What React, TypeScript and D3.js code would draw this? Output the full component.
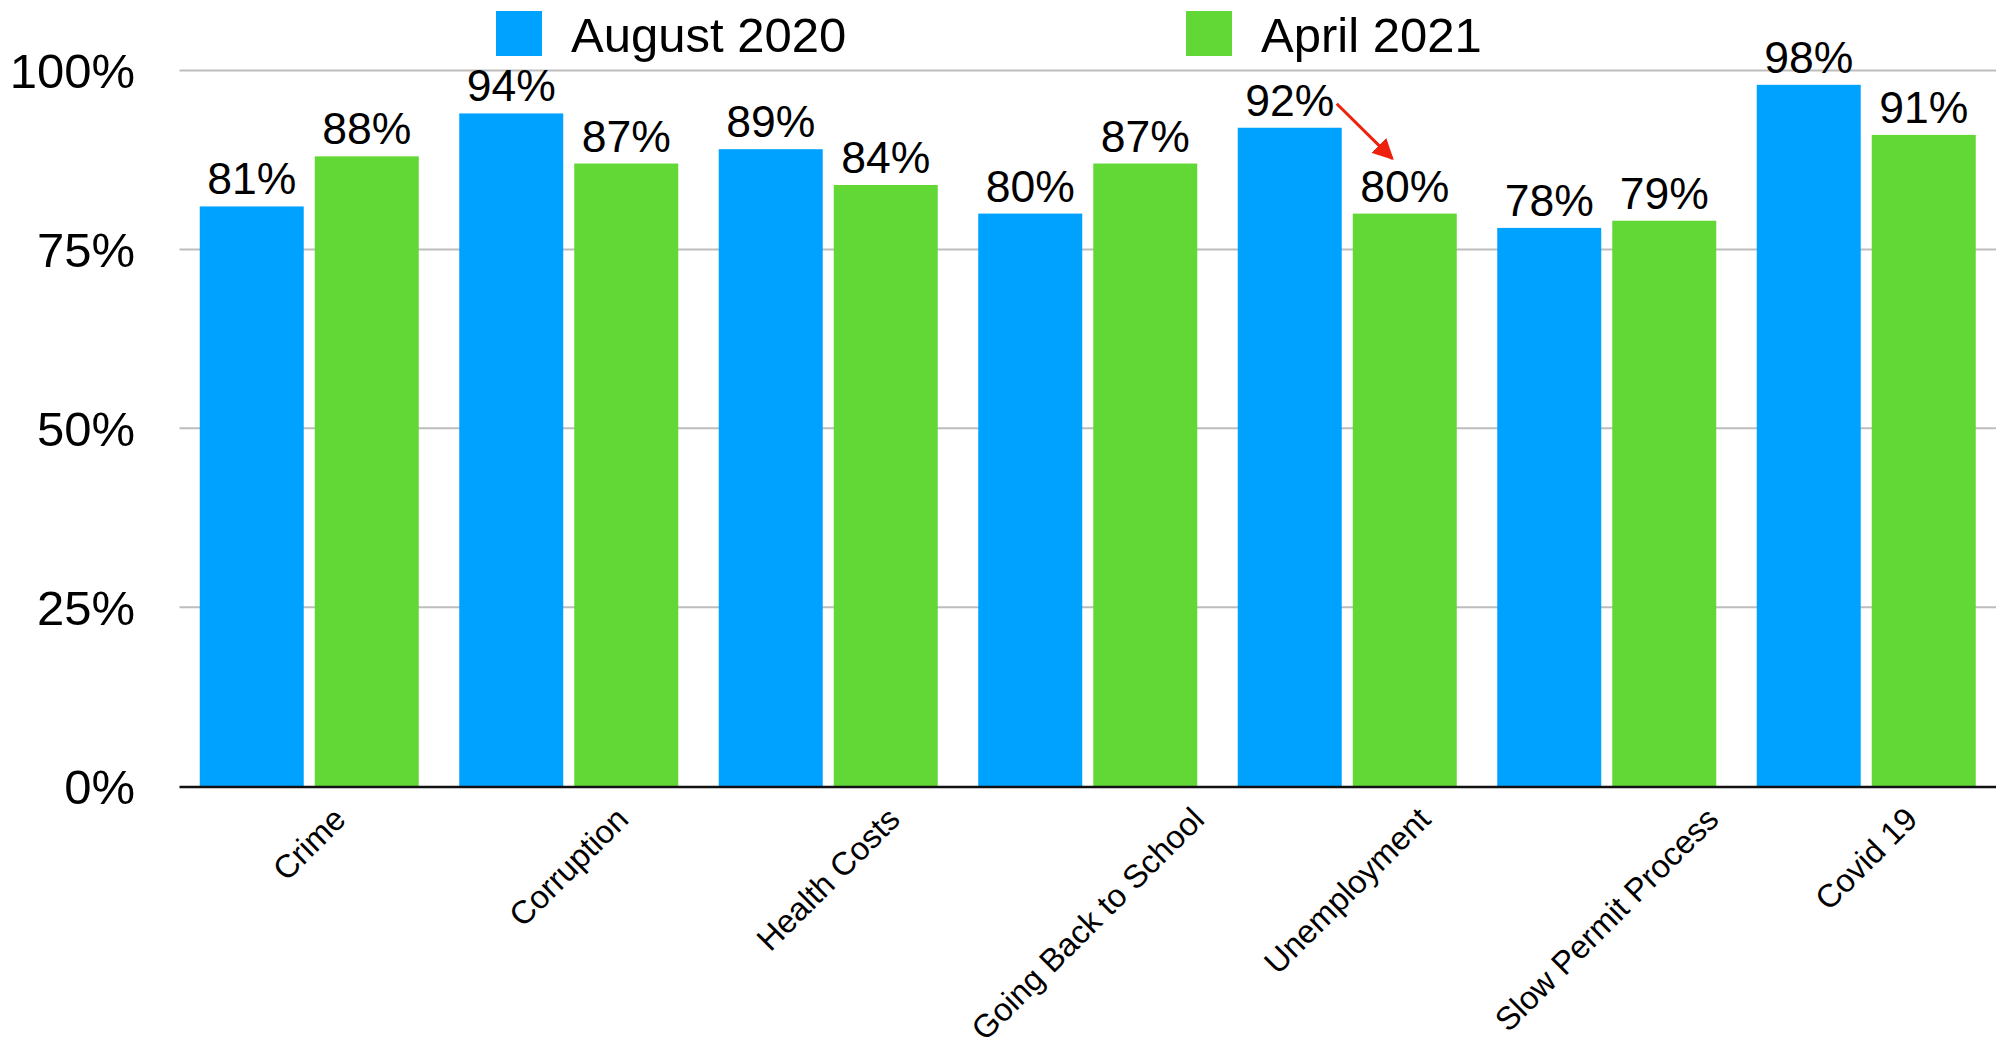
import { useEffect, useRef } from 'react';
import * as d3 from 'd3';

const categories = [
  'Crime',
  'Corruption',
  'Health Costs',
  'Going Back to School',
  'Unemployment',
  'Slow Permit Process',
  'Covid 19',
];
const seriesNames = ['August 2020', 'April 2021'];
const august2020 = [81, 94, 89, 80, 92, 78, 98];
const april2021 = [88, 87, 84, 87, 80, 79, 91];
const yTicks = [0, 25, 50, 75, 100];
const colors = ['#00A2FF', '#61D836'];

const WIDTH = 2011;
const HEIGHT = 1050;
const FONT = '"Liberation Sans", Arial, Helvetica, sans-serif';

export default function App() {
  const svgRef = useRef<SVGSVGElement>(null);

  useEffect(() => {
    document.body.style.margin = '0';
    if (!svgRef.current) return;

    const svg = d3.select(svgRef.current);
    svg.selectAll('*').remove();

    const plot = { left: 179.5, right: 1996, top: 70.5, bottom: 786 };

    const x0 = d3.scaleBand<string>()
      .domain(categories)
      .range([plot.left, plot.right])
      .paddingInner(0.156)
      .paddingOuter(0.078);

    const x1 = d3.scaleBand<string>()
      .domain(seriesNames)
      .range([0, x0.bandwidth()])
      .paddingInner(0.096);

    const y = d3.scaleLinear().domain([0, 100]).range([plot.bottom, plot.top]);

    const rows = categories.map((c, i) => ({
      category: c,
      values: [august2020[i], april2021[i]],
    }));

    // gridlines
    svg.append('g')
      .selectAll('line')
      .data(yTicks.filter((t) => t > 0))
      .enter()
      .append('line')
      .attr('x1', plot.left)
      .attr('x2', plot.right)
      .attr('y1', (d) => y(d))
      .attr('y2', (d) => y(d))
      .attr('stroke', '#bdbdbd')
      .attr('stroke-width', 2);

    // y tick labels
    svg.append('g')
      .selectAll('text')
      .data(yTicks)
      .enter()
      .append('text')
      .attr('x', 135)
      .attr('y', (d) => y(d))
      .attr('dy', '0.36em')
      .attr('text-anchor', 'end')
      .attr('font-family', FONT)
      .attr('font-size', 49)
      .attr('fill', '#000')
      .text((d) => `${d}%`);

    // bars
    const groups = svg.append('g')
      .selectAll('g')
      .data(rows)
      .enter()
      .append('g')
      .attr('transform', (d) => `translate(${x0(d.category)},0)`);

    groups.selectAll('rect')
      .data((d) => d.values.map((v, i) => ({ key: seriesNames[i], value: v, i })))
      .enter()
      .append('rect')
      .attr('x', (d) => x1(d.key) as number)
      .attr('width', x1.bandwidth())
      .attr('y', (d) => y(d.value))
      .attr('height', (d) => y(0) - y(d.value))
      .attr('fill', (d) => colors[d.i]);

    groups.selectAll('text')
      .data((d) => d.values.map((v, i) => ({ key: seriesNames[i], value: v })))
      .enter()
      .append('text')
      .attr('x', (d) => (x1(d.key) as number) + x1.bandwidth() / 2)
      .attr('y', (d) => y(d.value) - 12)
      .attr('text-anchor', 'middle')
      .attr('font-family', FONT)
      .attr('font-size', 44.5)
      .attr('fill', '#000')
      .text((d) => `${d.value}%`);

    // baseline
    svg.append('line')
      .attr('x1', plot.left)
      .attr('x2', plot.right)
      .attr('y1', y(0) + 1)
      .attr('y2', y(0) + 1)
      .attr('stroke', '#111')
      .attr('stroke-width', 2.5);

    // rotated category labels, bbox centred under each group
    const labelTop = 805;
    const labelSize = 32.5;
    const cos45 = Math.SQRT1_2;
    svg.append('g')
      .selectAll('text')
      .data(categories)
      .enter()
      .append('text')
      .attr('font-family', FONT)
      .attr('font-size', labelSize)
      .attr('fill', '#000')
      .attr('text-anchor', 'middle')
      .attr('dominant-baseline', 'central')
      .text((d) => d)
      .each(function (d) {
        const el = this as SVGTextElement;
        const len = el.getComputedTextLength();
        const h = labelSize * 0.74;
        const half = ((len + h) * cos45) / 2;
        const cx = (x0(d) as number) + x0.bandwidth() / 2;
        const cy = labelTop + half;
        d3.select(el)
          .attr('x', cx)
          .attr('y', cy)
          .attr('transform', `rotate(-45 ${cx} ${cy})`);
      });

    // legend
    const legend = svg.append('g');
    const legendX = [496, 1186];
    seriesNames.forEach((name, i) => {
      legend.append('rect')
        .attr('x', legendX[i])
        .attr('y', 11)
        .attr('width', 46)
        .attr('height', 45)
        .attr('fill', colors[i]);
      legend.append('text')
        .attr('x', legendX[i] + 75)
        .attr('y', 34)
        .attr('dy', '0.36em')
        .attr('font-family', FONT)
        .attr('font-size', 49)
        .attr('fill', '#000')
        .text(name);
    });

    // red annotation arrow: Unemployment Aug 2020 -> Apr 2021
    const ui = categories.indexOf('Unemployment');
    const gx = x0('Unemployment') as number;
    const ax1 = gx + (x1(seriesNames[0]) as number) + x1.bandwidth() - 5;
    const ay1 = y(august2020[ui]) - 24;
    const ax2 = gx + (x1(seriesNames[1]) as number) + x1.bandwidth() * 0.38;
    const ay2 = y(april2021[ui]) - 55;

    svg.append('defs')
      .append('marker')
      .attr('id', 'arrowhead')
      .attr('viewBox', '0 0 10 10')
      .attr('refX', 9)
      .attr('refY', 5)
      .attr('markerWidth', 7)
      .attr('markerHeight', 7)
      .attr('markerUnits', 'strokeWidth')
      .attr('orient', 'auto')
      .append('path')
      .attr('d', 'M0,0 L10,5 L0,10 z')
      .attr('fill', '#EE220C');

    svg.append('line')
      .attr('x1', ax1)
      .attr('y1', ay1)
      .attr('x2', ax2)
      .attr('y2', ay2)
      .attr('stroke', '#EE220C')
      .attr('stroke-width', 3)
      .attr('marker-end', 'url(#arrowhead)');
  }, []);

  return (
    <svg
      ref={svgRef}
      width={WIDTH}
      height={HEIGHT}
      style={{ display: 'block', background: '#fff' }}
    />
  );
}
